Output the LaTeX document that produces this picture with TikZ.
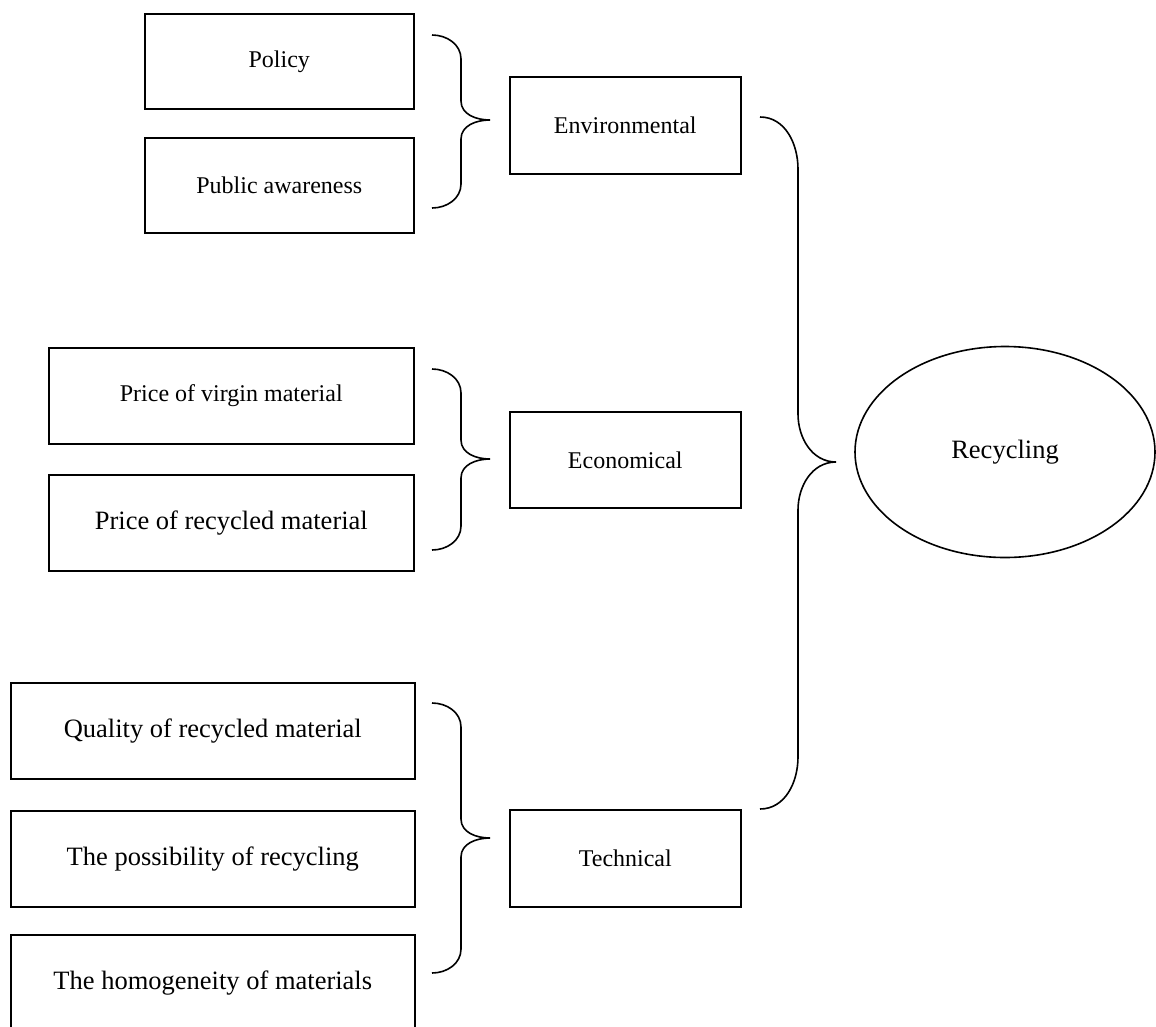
\documentclass[tikz,border=0pt]{standalone}
\usepackage{fontspec}
\setmainfont{Liberation Serif}
\usetikzlibrary{shapes.geometric,calc}

\tikzset{
  factor/.style={draw, line width=1.6pt, anchor=north west, inner sep=0pt, align=center},
  small/.style={font=\fontsize{24}{28}\selectfont},
  large/.style={font=\fontsize{26.5}{31}\selectfont},
  conn/.style={line width=1.6pt},
}

% curly bracket: #1 top end, #2 tip, #3 bottom end, #4 end-to-spine offset,
% #5 height of the end bends, #6 height of the tip bends
\newcommand\curlyconn[6]{%
  \draw[conn] (#1) to[out=0,in=90] ($(#1)+(#4,#5)$)
    -- ($(#2)+(-#4,-#6)$) to[out=-90,in=180] (#2)
    to[out=180,in=90] ($(#2)+(-#4,#6)$)
    -- ($(#3)+(#4,-#5)$) to[out=-90,in=0] (#3);
}

\begin{document}
\begin{tikzpicture}[x=1pt,y=-1pt]
\useasboundingbox (0,0) rectangle (1156,1026);
\clip (0,0) rectangle (1156,1026);

% first-level factors
\node[factor, small, minimum width=269pt, minimum height=95pt] (policy) at (144,13) {Policy};
\node[factor, small, minimum width=269pt, minimum height=95pt] (public) at (144,137) {Public awareness};
\node[factor, small, minimum width=365pt, minimum height=96pt] (virgin) at (48,347) {Price of virgin material};
\node[factor, large, minimum width=365pt, minimum height=96pt] (recprice) at (48,474) {Price of recycled material};
\node[factor, large, minimum width=404pt, minimum height=96pt] (quality) at (10,682) {Quality of recycled material};
\node[factor, large, minimum width=404pt, minimum height=96pt] (possible) at (10,810) {The possibility of recycling};
\node[factor, large, minimum width=404pt, minimum height=96pt] (homog) at (10,934) {The homogeneity of materials};

% groups
\node[factor, small, minimum width=231pt, minimum height=97pt] (env) at (509,76) {Environmental};
\node[factor, small, minimum width=231pt, minimum height=96pt] (eco) at (509,411) {Economical};
\node[factor, small, minimum width=231pt, minimum height=97pt] (tech) at (509,809) {Technical};

% goal
\node[draw, ellipse, line width=1.6pt, large, minimum width=300pt, minimum height=211pt, inner sep=0pt] (goal) at (1005,452) {Recycling};

% bracket end points
\coordinate (envTop) at (432,35);
\coordinate (envTip) at (490,120);
\coordinate (envBot) at (432,208);
\coordinate (ecoTop) at (432,369);
\coordinate (ecoTip) at (490,459);
\coordinate (ecoBot) at (432,550);
\coordinate (techTop) at (432,703);
\coordinate (techTip) at (490,838);
\coordinate (techBot) at (432,973);
\coordinate (goalTop) at (760,117);
\coordinate (goalTip) at (836,462);
\coordinate (goalBot) at (760,809);

\curlyconn{envTop}{envTip}{envBot}{29}{24}{19}
\curlyconn{ecoTop}{ecoTip}{ecoBot}{29}{24}{19}
\curlyconn{techTop}{techTip}{techBot}{29}{24}{19}
\curlyconn{goalTop}{goalTip}{goalBot}{38}{52}{48}
\end{tikzpicture}
\end{document}
